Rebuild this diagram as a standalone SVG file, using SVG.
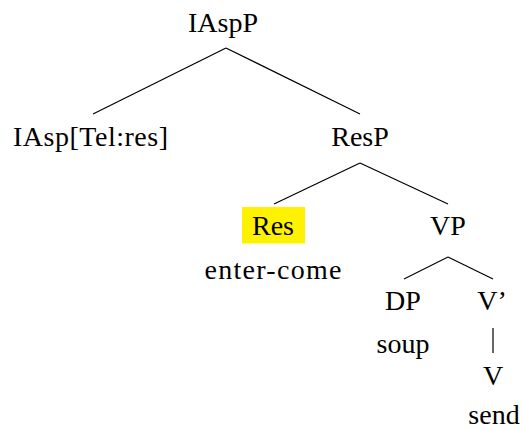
<svg xmlns="http://www.w3.org/2000/svg" width="523" height="430" viewBox="0 0 523 430">
<style>
text{font-family:'Liberation Serif','Times New Roman',Tinos,'DejaVu Serif','Noto Serif',Times,serif;font-size:28px;fill:#000;text-anchor:middle}
.e{stroke:#000;stroke-width:1.2;fill:none}
</style>
<rect width="523" height="430" fill="#fff"/>
<g id="edges">
<line class="e" x1="226" y1="48" x2="93" y2="114"/>
<line class="e" x1="226" y1="48" x2="360" y2="114"/>
<line class="e" x1="360" y1="163" x2="274" y2="204"/>
<line class="e" x1="360" y1="163" x2="448" y2="204"/>
<line class="e" x1="448" y1="257" x2="404" y2="279"/>
<line class="e" x1="448" y1="257" x2="493" y2="279"/>
<line class="e" x1="493" y1="328" x2="493" y2="353"/>
</g>
<g id="IAspP"><text x="223" y="32" font-family="Liberation Serif, serif">IAspP</text></g>
<g id="IAsp"><text x="90.5" y="146" textLength="155">IAsp[Tel:res]</text></g>
<g id="ResP"><text x="360" y="146">ResP</text></g>
<g id="Res"><rect x="242" y="207" width="63" height="36.5" fill="#fff200"/><text x="273" y="235">Res</text><text x="273" y="279" textLength="137">enter-come</text></g>
<g id="VP"><text x="448" y="235">VP</text></g>
<g id="DP"><text x="403" y="310">DP</text><text x="403" y="353">soup</text></g>
<g id="Vbar"><text x="492" y="310">V’</text></g>
<g id="V"><text x="493" y="385">V</text><text x="494" y="424">send</text></g>
</svg>
